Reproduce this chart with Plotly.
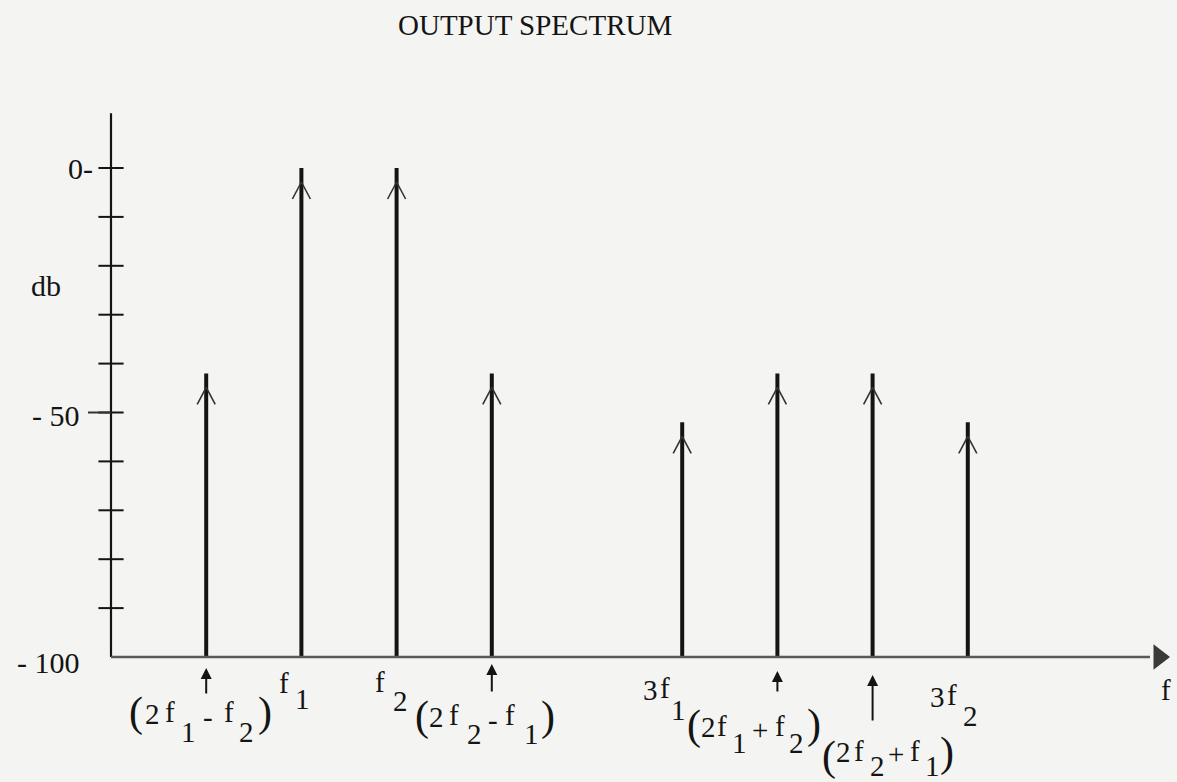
import plotly.graph_objects as go

# ---- spectrum data -------------------------------------------------------
# frequency slots (arbitrary, evenly spaced units along the f axis)
freq_pos = [1, 2, 3, 4, 6, 7, 8, 9]
freq_names = ["2f1-f2", "f1", "f2", "2f2-f1", "3f1", "2f1+f2", "2f2+f1", "3f2"]
level_db = [-42, 0, 0, -42, -52, -42, -42, -52]

tick_db = [0, -10, -20, -30, -40, -50, -60, -70, -80, -90]
floor_db = -100
axis_top_db = 11.2

# ---- page geometry (pixels) ---------------------------------------------
W, H = 1177, 782
X0_PX, X_STEP = 111.0, 95.2        # f = 0 at X0_PX, one slot per X_STEP px
Y0_PX, Y_SCALE = 168.0, 4.89       # 0 dB at Y0_PX, px per dB


def xd(px):
    return (px - X0_PX) / X_STEP


def yd(py):
    return (Y0_PX - py) / Y_SCALE


INK = "#141414"
BG = "#f4f4f2"
FONT = "Liberation Serif"

fig = go.Figure()

# spectral lines
sx, sy = [], []
for f, lv in zip(freq_pos, level_db):
    sx += [f, f, None]
    sy += [floor_db, lv, None]
fig.add_trace(go.Scatter(x=sx, y=sy, mode="lines",
                         line=dict(color=INK, width=4), hoverinfo="skip"))

# open arrow barbs at the top of each line
bx = 9 / X_STEP
b1 = 14 / Y_SCALE
b2 = 31 / Y_SCALE
vx, vy = [], []
for f, lv in zip(freq_pos, level_db):
    vx += [f - bx, f, f + bx, None]
    vy += [lv - b2, lv - b1, lv - b2, None]
fig.add_trace(go.Scatter(x=vx, y=vy, mode="lines",
                         line=dict(color="#333", width=1.6), hoverinfo="skip"))

# vertical (db) axis
fig.add_trace(go.Scatter(x=[0, 0], y=[floor_db, axis_top_db], mode="lines",
                         line=dict(color=INK, width=2.2), hoverinfo="skip"))
# cross ticks every 10 dB
fig.add_trace(go.Scatter(x=[0] * len(tick_db), y=tick_db, mode="markers",
                         marker=dict(symbol="line-ew", size=18,
                                     line=dict(color=INK, width=2)),
                         hoverinfo="skip"))
fig.add_shape(type="line", x0=xd(88), x1=0, y0=-50, y1=-50,
              line=dict(color="#333", width=2))

# horizontal (f) axis with arrow
fig.add_trace(go.Scatter(x=[0, xd(1150)], y=[floor_db, floor_db], mode="lines",
                         line=dict(color="#5a5a5a", width=2.5), hoverinfo="skip"))
fig.add_trace(go.Scatter(x=[xd(1159)], y=[floor_db], mode="markers",
                         marker=dict(symbol="triangle-right", size=22, color="#3a3a3a"),
                         hoverinfo="skip"))

# db tick labels
for txt, right_px, py in [("0-", 95, 168), ("- 50", 82, 415), ("- 100", 82, 662)]:
    fig.add_annotation(x=xd(right_px), y=yd(py), text=txt, showarrow=False,
                       xanchor="right", yanchor="middle",
                       font=dict(family=FONT, size=30, color=INK))
fig.add_annotation(x=xd(46), y=yd(285), text="db", showarrow=False,
                   xanchor="center", yanchor="middle",
                   font=dict(family=FONT, size=30, color=INK))

# title
fig.add_annotation(x=535 / W, y=1 - 25 / H, xref="paper", yref="paper",
                   text="OUTPUT SPECTRUM", showarrow=False,
                   xanchor="center", yanchor="middle",
                   font=dict(family=FONT, size=29, color=INK))

# frequency labels, typed piece by piece (subscripts sit half a line low)
# (glyph, centre x px, centre y px, kind)  kind: M = text, P = bracket
label_pieces = [
    ("(", 136, 712, "P"), ("2", 152, 714, "M"), ("f", 170, 712, "M"), ("1", 188, 732, "M"),
    ("-", 208, 717, "M"), ("f", 229, 712, "M"), ("2", 246, 732, "M"), (")", 265, 712, "P"),
    ("f", 284, 683, "M"), ("1", 302, 699, "M"),
    ("f", 380, 682, "M"), ("2", 400, 701, "M"),
    ("(", 422, 716, "P"), ("2", 436, 717, "M"), ("f", 454, 715, "M"), ("2", 474, 734, "M"),
    ("-", 493, 720, "M"), ("f", 510, 715, "M"), ("1", 531, 734, "M"), (")", 548, 716, "P"),
    ("3", 650, 690, "M"), ("f", 665, 688, "M"), ("1", 678, 710, "M"),
    ("(", 694, 725, "P"), ("2", 708, 727, "M"), ("f", 722, 726, "M"), ("1", 739, 743, "M"),
    ("+", 760, 730, "M"), ("f", 780, 726, "M"), ("2", 796, 743, "M"), (")", 814, 724, "P"),
    ("(", 829, 756, "P"), ("2", 843, 752, "M"), ("f", 859, 751, "M"), ("2", 877, 766, "M"),
    ("+", 896, 754, "M"), ("f", 915, 751, "M"), ("1", 932, 766, "M"), (")", 947, 752, "P"),
    ("3", 937, 697, "M"), ("f", 952, 695, "M"), ("2", 970, 716, "M"),
    ("f", 1166, 690, "M"),
]
for g, px, py, kind in label_pieces:
    fig.add_annotation(x=xd(px), y=yd(py), text=g, showarrow=False,
                       xanchor="center", yanchor="middle",
                       font=dict(family=FONT, size=42 if kind == "P" else 29, color=INK))

# small pointers under the intermodulation products
pointers = [(0, 668, 695), (3, 664, 693), (5, 671, 693), (6, 675, 722)]
for idx, tip_py, tail_py in pointers:
    fig.add_annotation(x=freq_pos[idx], y=yd(tip_py), ax=0, ay=tail_py - tip_py,
                       text="", showarrow=True, arrowhead=2, arrowsize=1.1,
                       arrowwidth=2, arrowcolor=INK, standoff=0)

fig.update_layout(
    width=W, height=H, autosize=False,
    margin=dict(l=0, r=0, t=0, b=0, pad=0),
    paper_bgcolor=BG, plot_bgcolor=BG,
    showlegend=False,
    xaxis=dict(range=[xd(0), xd(W)], visible=False, fixedrange=True),
    yaxis=dict(range=[yd(H), yd(0)], visible=False, fixedrange=True),
)

fig.write_html("out.html")
